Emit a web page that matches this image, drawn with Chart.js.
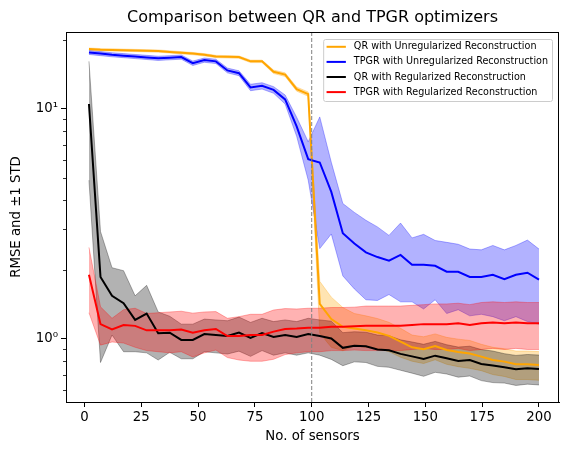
<!DOCTYPE html>
<html>
<head>
<meta charset="utf-8">
<script src="https://cdn.jsdelivr.net/npm/chart.js@4.4.0/dist/chart.umd.min.js"></script>
<style>
  html, body { margin: 0; padding: 0; background: #fff; }
  canvas { display: block; }
</style>
</head>
<body>
<canvas id="rmseChart" width="571" height="455"></canvas>
<script>
// --- data ---
const sensors = [2, 7.08, 12.15, 17.23, 22.31, 27.38, 32.46, 37.54, 42.62, 47.69,
                 52.77, 57.85, 62.92, 68, 73.08, 78.15, 83.23, 88.31, 93.38, 98.46,
                 103.54, 108.62, 113.69, 118.77, 123.85, 128.92, 134, 139.08, 144.15, 149.23,
                 154.31, 159.38, 164.46, 169.54, 174.62, 179.69, 184.77, 189.85, 194.92, 200];

const qrUnregMean = [18.2, 18.1, 18.05, 18.0, 17.95, 17.9, 17.85, 17.7, 17.55, 17.4,
                     17.2, 16.9, 16.85, 16.8, 16.1, 16.1, 14.5, 14.1, 12.2, 11.6,
                     1.42, 1.22, 1.13, 1.11, 1.09, 1.067, 1.031, 0.973, 0.92, 0.902,
                     0.932, 0.896, 0.878, 0.865, 0.838, 0.81, 0.797, 0.776, 0.776, 0.771];
const qrUnregStd = [0.2, 0.2, 0.2, 0.2, 0.2, 0.2, 0.2, 0.2, 0.2, 0.2,
                    0.2, 0.2, 0.2, 0.2, 0.2, 0.2, 0.25, 0.25, 0.25, 0.25,
                    0.36, 0.3, 0.24, 0.18, 0.17, 0.16, 0.15, 0.14, 0.12, 0.12,
                    0.12, 0.12, 0.12, 0.12, 0.11, 0.11, 0.11, 0.11, 0.11, 0.11];

const tpgrUnregMean = [17.6, 17.4, 17.2, 17.05, 16.9, 16.75, 16.6, 16.7, 16.8, 15.8,
                       16.3, 16.1, 14.7, 14.3, 12.4, 12.6, 12.1, 11.0, 8.4, 6.05,
                       5.85, 4.36, 2.88, 2.6, 2.38, 2.27, 2.19, 2.32, 2.10, 2.10,
                       2.08, 1.96, 1.96, 1.86, 1.86, 1.90, 1.82, 1.90, 1.94, 1.81];
const tpgrUnregStd = [0.35, 0.35, 0.35, 0.35, 0.35, 0.35, 0.35, 0.35, 0.35, 0.35,
                      0.35, 0.35, 0.35, 0.35, 0.4, 0.4, 0.4, 0.5, 0.8, 1.15,
                      3.38, 1.5, 1.0, 0.95, 0.9, 0.8, 0.63, 0.87, 0.65, 0.75,
                      0.6, 0.67, 0.62, 0.6, 0.58, 0.65, 0.62, 0.65, 0.75, 0.65];

const qrRegMean = [10.5, 1.86, 1.54, 1.43, 1.21, 1.29, 1.06, 1.065, 0.99, 0.99,
                   1.05, 1.04, 1.03, 1.065, 1.01, 1.06, 1.02, 1.04, 1.02, 1.05,
                   1.03, 1.005, 0.915, 0.935, 0.93, 0.90, 0.893, 0.861, 0.84, 0.818,
                   0.846, 0.824, 0.802, 0.81, 0.779, 0.766, 0.753, 0.738, 0.746, 0.741];
const qrRegStd = [5.6, 1.07, 0.5, 0.55, 0.33, 0.42, 0.25, 0.19, 0.17, 0.17,
                  0.17, 0.17, 0.17, 0.18, 0.17, 0.17, 0.17, 0.17, 0.17, 0.18,
                  0.18, 0.19, 0.15, 0.14, 0.14, 0.14, 0.14, 0.13, 0.13, 0.13,
                  0.13, 0.12, 0.12, 0.12, 0.12, 0.12, 0.11, 0.11, 0.11, 0.11];

const tpgrRegMean = [1.90, 1.16, 1.10, 1.15, 1.14, 1.09, 1.09, 1.09, 1.10, 1.065,
                     1.09, 1.105, 1.03, 1.03, 1.04, 1.04, 1.076, 1.105, 1.11, 1.12,
                     1.12, 1.13, 1.13, 1.135, 1.14, 1.14, 1.14, 1.14, 1.15, 1.16,
                     1.16, 1.16, 1.17, 1.15, 1.17, 1.18, 1.17, 1.18, 1.17, 1.17];
const tpgrRegStd = [0.6, 0.22, 0.13, 0.19, 0.22, 0.2, 0.21, 0.22, 0.22, 0.23,
                    0.22, 0.21, 0.2, 0.22, 0.24, 0.24, 0.26, 0.25, 0.24, 0.24,
                    0.24, 0.24, 0.24, 0.24, 0.25, 0.25, 0.25, 0.25, 0.25, 0.25,
                    0.26, 0.26, 0.26, 0.26, 0.27, 0.27, 0.27, 0.27, 0.27, 0.27];

const seriesLabels = ['QR with Unregularized Reconstruction', 'TPGR with Unregularized Reconstruction',
                      'QR with Regularized Reconstruction', 'TPGR with Regularized Reconstruction'];
const xTicks = [0, 25, 50, 75, 100, 125, 150, 175, 200];
const yTicks = [0.6, 0.7, 0.8, 0.9, 1, 2, 3, 4, 5, 6, 7, 8, 9, 10, 20];
const yTickLabels = { 1: '10⁰', 10: '10¹' };
const splitSensors = 100;
const chartTitle = 'Comparison between QR and TPGR optimizers';

const FONT = '"DejaVu Sans", sans-serif';

// --- build datasets: band (upper + lower) per series, then mean lines ---
const series = [
    { label: seriesLabels[0], mean: qrUnregMean, std: qrUnregStd, color: '#ffa500', band: 'rgba(255,165,0,0.3)' },
    { label: seriesLabels[1], mean: tpgrUnregMean, std: tpgrUnregStd, color: '#0000ff', band: 'rgba(0,0,255,0.3)' },
    { label: seriesLabels[2], mean: qrRegMean, std: qrRegStd, color: '#000000', band: 'rgba(0,0,0,0.3)' },
    { label: seriesLabels[3], mean: tpgrRegMean, std: tpgrRegStd, color: '#ff0000', band: 'rgba(255,0,0,0.3)' }
];

const datasets = [];
let order = 100;
series.forEach(s => {
    // bande +-1 STD (remplie vers le dataset suivant)
    datasets.push({
        label: s.label + ' upper',
        data: sensors.map((x, i) => ({ x, y: s.mean[i] + s.std[i] })),
        borderColor: s.band, backgroundColor: s.band, borderWidth: 1,
        pointRadius: 0, fill: '+1', order: order--
    });
    datasets.push({
        label: s.label + ' lower',
        data: sensors.map((x, i) => ({ x, y: s.mean[i] - s.std[i] })),
        borderColor: s.band, backgroundColor: s.band, borderWidth: 1,
        pointRadius: 0, fill: false, order: order--
    });
});
series.forEach(s => {
    datasets.push({
        label: s.label,
        isMean: true,
        data: sensors.map((x, i) => ({ x, y: s.mean[i] })),
        borderColor: s.color, borderWidth: 2,
        pointRadius: 0, fill: false, order: order--
    });
});

// spines, minor ticks, dashed line, legend
const decorations = {
    id: 'decorations',
    afterDatasetsDraw(chart) {
        const { ctx, chartArea: a, scales: { x } } = chart;
        const px = x.getPixelForValue(splitSensors);
        ctx.save();
        ctx.strokeStyle = '#808080';
        ctx.lineWidth = 1;
        ctx.setLineDash([4, 2]);
        ctx.beginPath();
        ctx.moveTo(px, a.top);
        ctx.lineTo(px, a.bottom);
        ctx.stroke();
        ctx.restore();
    },
    afterDraw(chart) {
        const { ctx, chartArea: a, scales: { y } } = chart;
        ctx.save();
        // cadre complet
        ctx.strokeStyle = '#000';
        ctx.lineWidth = 1;
        ctx.strokeRect(a.left + 0.5, a.top + 0.5, a.right - a.left - 1, a.bottom - a.top);

        // petites graduations
        ctx.lineWidth = 0.8;
        yTicks.filter(v => !yTickLabels[v]).forEach(v => {
            const py = Math.round(y.getPixelForValue(v)) + 0.5;
            ctx.beginPath();
            ctx.moveTo(a.left - 3, py);
            ctx.lineTo(a.left, py);
            ctx.stroke();
        });

        // légende
        const items = chart.data.datasets.filter(d => d.isMean);
        ctx.font = '9.6px ' + FONT;
        const textW = Math.max(...items.map(d => ctx.measureText(d.label).width));
        const boxW = 30.7 + textW + 4;
        const rowH = 15.1;
        const boxH = 62;
        const left = a.right - 7 - boxW;
        const top = a.top + 7;
        ctx.fillStyle = 'rgba(255,255,255,0.8)';
        ctx.strokeStyle = '#cccccc';
        ctx.lineWidth = 1;
        ctx.beginPath();
        ctx.roundRect(left + 0.5, top + 0.5, boxW, boxH, 2);
        ctx.fill();
        ctx.stroke();
        ctx.textBaseline = 'middle';
        ctx.textAlign = 'left';
        items.forEach((d, i) => {
            const cy = top + 7.8 + i * rowH;
            ctx.strokeStyle = d.borderColor;
            ctx.lineWidth = 2;
            ctx.beginPath();
            ctx.moveTo(left + 3.4, cy);
            ctx.lineTo(left + 22.7, cy);
            ctx.stroke();
            ctx.fillStyle = '#000';
            ctx.fillText(d.label, left + 30.7, cy);
        });
        ctx.restore();
    }
};

const tickFont = { family: FONT, size: 13.3 };

new Chart(document.getElementById('rmseChart'), {
    type: 'line',
    data: { datasets },
    plugins: [decorations],
    options: {
        responsive: false,
        animation: false,
        devicePixelRatio: 1,
        layout: { padding: { left: 0, right: 12, top: 0, bottom: 0 } },
        elements: { line: { tension: 0 } },
        plugins: {
            legend: { display: false },
            tooltip: { enabled: false },
            title: {
                display: true,
                text: chartTitle,
                fullSize: false,
                color: '#000',
                font: { family: FONT, size: 16, weight: 'normal' },
                padding: { top: 8, bottom: 4.8 }
            }
        },
        scales: {
            x: {
                type: 'linear',
                min: -8.1,
                max: 208.8,
                afterBuildTicks: scale => { scale.ticks = xTicks.map(v => ({ value: v })); },
                afterFit: scale => { scale.height = 53; },
                grid: { drawOnChartArea: false, tickLength: 5, tickColor: '#000', tickWidth: 1 },
                border: { color: '#000', width: 1 },
                ticks: { color: '#000', font: tickFont, padding: 3, maxRotation: 0, autoSkip: false },
                title: { display: true, text: 'No. of sensors', color: '#000', font: tickFont, padding: { top: 0, bottom: 10 } }
            },
            y: {
                type: 'logarithmic',
                min: 0.532,
                max: 21.6,
                afterBuildTicks: scale => { scale.ticks = yTicks.map(v => ({ value: v })); },
                afterFit: scale => { scale.width = 66; },
                grid: {
                    drawOnChartArea: false,
                    tickLength: 5,
                    tickWidth: 1,
                    tickColor: ctx => (ctx.tick && yTickLabels[ctx.tick.value]) ? '#000' : 'rgba(0,0,0,0)'
                },
                border: { color: '#000', width: 1 },
                ticks: {
                    color: '#000', font: tickFont, padding: 3, autoSkip: false,
                    callback: v => yTickLabels[v] || ''
                },
                title: { display: true, text: 'RMSE and ±1 STD', color: '#000', font: tickFont, padding: { top: 9, bottom: 0 } }
            }
        }
    }
});
</script>
</body>
</html>
